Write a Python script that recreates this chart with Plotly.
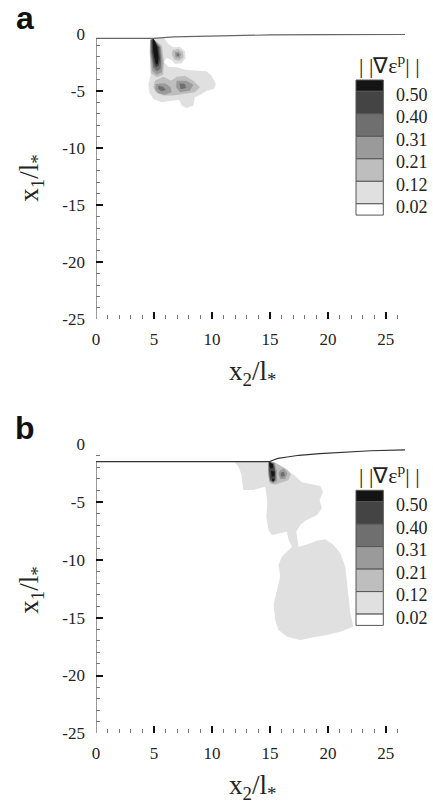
import plotly.graph_objects as go

# ---------------- data ----------------
LEVELS = [0.02, 0.12, 0.21, 0.31, 0.40, 0.50]
LEVEL_LABELS = ["0.02", "0.12", "0.21", "0.31", "0.40", "0.50"]
X_TICKS = [0, 5, 10, 15, 20, 25]
Y_TICKS = [0, -5, -10, -15, -20, -25]

# deformed free surface
A_SURF_X = [0, 4.95, 6.7, 9.5, 11.5, 15.0, 20.0, 26.65]
A_SURF_Y = [-0.38, -0.38, -0.26, -0.18, -0.13, -0.08, -0.05, -0.03]
B_SURF_X = [0, 15.0, 15.3, 15.7, 16.5, 17.5, 19.3, 21.5, 23.7, 26.65]
B_SURF_Y = [-1.5, -1.5, -1.36, -1.22, -1.10, -0.95, -0.80, -0.66, -0.56, -0.48]

# panel a : regions of ||grad eps_p|| (band 1 = 0.02-0.12 ... band 6 = >0.50)
A_B1_X = [4.94, 5.86, 6.24, 6.67, 7.24, 7.67, 7.73, 7.39, 6.81, 6.52, 6.09, 5.86, 6.24, 6.95,
          7.82, 8.82, 9.54, 9.97, 10.34, 10.17, 9.54, 9.11, 8.53, 8.39, 7.82, 7.39, 7.18, 6.52,
          5.66, 4.94, 4.60, 4.51, 4.71, 4.66, 4.71, 4.83]
A_B1_Y = [-0.35, -0.35, -0.88, -1.17, -1.11, -1.52, -2.10, -2.57, -2.63, -2.28, -2.10, -2.48,
          -2.86, -2.92, -3.16, -3.21, -3.27, -3.65, -4.38, -4.82, -4.97, -5.26, -5.55, -6.28,
          -6.49, -6.28, -5.78, -5.84, -5.99, -5.70, -5.11, -4.38, -3.65, -2.92, -1.75, -0.73]
A_B2_X = [4.83, 5.69, 5.86, 5.80, 5.23, 4.77, 4.63, 4.66, None,
          5.09, 5.80, 6.52, 6.95, 7.67, 8.39, 8.97, 8.53, 7.53, 6.67, 5.80, 5.17, 4.94, None,
          6.60, 7.10, 7.50, 7.55, 7.20, 6.75, 6.55]
A_B2_Y = [-0.35, -1.02, -2.48, -3.56, -3.80, -3.45, -1.61, -0.53, None,
          -4.09, -3.74, -4.09, -3.74, -3.65, -4.09, -4.67, -5.11, -5.26, -5.40, -5.40, -5.11, -4.62, None,
          -1.45, -1.30, -1.60, -2.05, -2.35, -2.25, -1.85]
A_B3_X = [4.86, 5.60, 5.75, 5.69, 5.23, 4.86, 4.68, 4.68, None,
          6.80, 7.15, 7.35, 7.20, 6.85, None,
          5.17, 5.95, 6.44, 6.52, 5.95, 5.37, 5.09, None,
          6.95, 7.82, 8.39, 8.10, 7.24, 6.90]
A_B3_Y = [-0.35, -1.17, -2.48, -3.36, -3.56, -3.21, -1.61, -0.58, None,
          -1.60, -1.55, -1.80, -2.10, -2.05, None,
          -4.38, -4.32, -4.67, -5.11, -5.32, -5.20, -4.82, None,
          -4.09, -4.09, -4.44, -4.97, -5.11, -4.67]
A_B4_X = [4.89, 5.52, 5.63, 5.57, 5.23, 4.94, 4.74, 4.74, None,
          6.95, 7.15, 7.15, 6.95, None,
          5.37, 5.80, 6.03, 5.66, 5.37, None,
          7.18, 7.67, 7.76, 7.30]
A_B4_Y = [-0.35, -1.17, -2.34, -3.07, -3.27, -2.92, -1.61, -0.58, None,
          -1.70, -1.72, -1.92, -1.90, None,
          -4.53, -4.62, -4.91, -5.02, -4.82, None,
          -4.32, -4.38, -4.73, -4.85]
A_B5_X = [4.91, 5.40, 5.52, 5.43, 5.17, 5.00, 4.83, 4.80]
A_B5_Y = [-0.35, -1.17, -2.19, -2.78, -2.92, -2.63, -1.61, -0.58]
A_B6_X = [4.94, 5.29, 5.40, 5.34, 5.23, 5.12, 4.94, 4.89]
A_B6_Y = [-0.35, -1.17, -2.04, -2.57, -2.69, -2.48, -1.61, -0.73]

# panel b
B_B1_X = [11.9, 12.3, 12.55, 12.7, 13.58, 14.59, 14.79, 14.68, 14.88, 15.17, 16.47, 16.61, 16.90,
          16.03, 15.74, 15.89, 15.54, 15.31, 15.46, 15.74, 16.47, 17.62, 18.77, 19.92, 21.07,
          22.2, 21.93, 21.79, 21.65, 21.5, 21.07, 20.49, 19.78, 19.06, 18.05, 17.47, 17.39,
          17.27, 17.62, 18.05, 19.06, 19.49, 19.28, 19.58, 19.34, 18.34, 17.76, 17.18, 16.47,
          15.74, 15.03]
B_B1_Y = [-1.5, -1.94, -2.66, -3.95, -3.95, -3.67, -5.10, -6.26, -7.41, -7.85, -7.56, -8.28, -8.86,
          -9.72, -10.44, -11.45, -12.89, -13.90, -15.20, -16.06, -16.64, -16.93, -16.70, -16.50,
          -16.21, -15.78, -14.6, -13.18, -11.74, -10.6, -9.43, -8.71, -8.22, -8.34, -8.71, -8.86,
          -8.28, -7.56, -6.98, -6.61, -6.12, -5.54, -4.82, -4.10, -3.61, -3.37, -3.29, -2.74,
          -2.22, -1.79, -1.5]
B_B2_X = [14.85, 15.4, 16.0, 16.5, 16.8, 16.6, 16.0, 15.5, 15.0, 14.85]
B_B2_Y = [-1.5, -1.55, -1.9, -2.2, -2.6, -3.1, -3.3, -3.5, -3.4, -2.6]
B_B3_X = [14.85, 15.4, 15.6, 15.6, 15.3, 14.95, 14.85, None,
          15.8, 16.2, 16.5, 16.3, 15.9, 15.75]
B_B3_Y = [-1.5, -1.6, -2.3, -3.2, -3.4, -3.2, -2.4, None,
          -2.3, -2.1, -2.5, -3.0, -3.0, -2.6]
B_B4_X = [14.9, 15.35, 15.5, 15.5, 15.25, 15.0, 14.9, None,
          16.0, 16.2, 16.3, 16.05, 15.9]
B_B4_Y = [-1.5, -1.65, -2.4, -3.1, -3.3, -3.1, -2.3, None,
          -2.4, -2.4, -2.7, -2.85, -2.65]
B_B5_X = [14.92, 15.3, 15.45, 15.45, 15.2, 15.02, 14.95]
B_B5_Y = [-1.52, -1.7, -2.4, -3.0, -3.2, -3.0, -2.3]
B_B6_X = [14.95, 15.25, 15.3, 15.05, 14.95, None,
          15.1, 15.4, 15.4, 15.15, None,
          15.2, 15.4, 15.35, 15.2]
B_B6_Y = [-1.55, -1.7, -2.0, -2.1, -1.9, None,
          -2.3, -2.35, -2.75, -2.8, None,
          -2.95, -3.0, -3.2, -3.2]

# ---------------- style ----------------
W, H = 433, 803
BAND_COLORS = ["#ffffff", "#e0e0e0", "#bebebe", "#9a9a9a", "#6f6f6f", "#444444", "#141414"]
SERIF = "Liberation Serif"
SANS = "Liberation Sans"
X_LEFT, X_RIGHT = 96, 405
PANELS = {"a": (34.0, 319.3), "b": (444.3, 733.3)}
X_RANGE = [0, 26.65]

fig = go.Figure()

panel_data = {
    "a": ([(A_B1_X, A_B1_Y), (A_B2_X, A_B2_Y), (A_B3_X, A_B3_Y), (A_B4_X, A_B4_Y),
           (A_B5_X, A_B5_Y), (A_B6_X, A_B6_Y)], A_SURF_X, A_SURF_Y, "#666666"),
    "b": ([(B_B1_X, B_B1_Y), (B_B2_X, B_B2_Y), (B_B3_X, B_B3_Y), (B_B4_X, B_B4_Y),
           (B_B5_X, B_B5_Y), (B_B6_X, B_B6_Y)], B_SURF_X, B_SURF_Y, "#333333"),
}

for i, key in enumerate(["a", "b"]):
    xa = "x" if i == 0 else "x2"
    ya = "y" if i == 0 else "y2"
    bands, sx, sy, scol = panel_data[key]
    for k, (bx, by) in enumerate(bands):
        fig.add_trace(go.Scatter(x=bx, y=by, xaxis=xa, yaxis=ya, mode="lines",
                                 fill="toself", fillcolor=BAND_COLORS[k + 1],
                                 line=dict(width=0, color=BAND_COLORS[k + 1]),
                                 hoverinfo="skip", showlegend=False))
    fig.add_trace(go.Scatter(x=sx, y=sy, xaxis=xa, yaxis=ya, mode="lines",
                             line=dict(color=scol, width=1.2), showlegend=False,
                             cliponaxis=False))
    # left boundary of the specimen (from surface down to the bottom)
    fig.add_trace(go.Scatter(x=[sx[0], sx[0]], y=[sy[0], Y_TICKS[-1]], xaxis=xa, yaxis=ya,
                             mode="lines", line=dict(color="#555555", width=1.2),
                             showlegend=False, cliponaxis=False))

def xaxis_cfg(anchor):
    return dict(domain=[X_LEFT / W, X_RIGHT / W], range=X_RANGE, anchor=anchor,
                automargin=False,
                showline=False, showgrid=False, zeroline=False,
                tickmode="array", tickvals=X_TICKS, ticktext=[str(v) for v in X_TICKS],
                ticks="inside", ticklen=7, tickwidth=2, tickcolor="#111111",
                ticklabelstandoff=8,
                minor=dict(ticks="inside", ticklen=4, tickwidth=1, tickcolor="#777777",
                           dtick=1, showgrid=False),
                tickfont=dict(family=SERIF, size=17, color="#222222"))

def yaxis_cfg(anchor, top, bottom):
    return dict(domain=[1 - bottom / H, 1 - top / H], range=[Y_TICKS[-1], Y_TICKS[0]],
                anchor=anchor, automargin=False,
                showline=False, showgrid=False, zeroline=False,
                tickmode="array", tickvals=Y_TICKS, ticktext=[str(v) for v in Y_TICKS],
                ticks="inside", ticklen=7, tickwidth=2, tickcolor="#111111",
                ticklabelstandoff=10,
                minor=dict(ticks="inside", ticklen=4, tickwidth=1, tickcolor="#777777",
                           dtick=1, showgrid=False),
                tickfont=dict(family=SERIF, size=17, color="#222222"))

shapes = []
annotations = []
for key, (top, bottom) in PANELS.items():
    # colour legend
    y0 = top + 46.0
    heights = [11.3] + [22.5] * 5 + [11.3]
    edges = [y0]
    for h in heights:
        edges.append(edges[-1] + h)
    cols = BAND_COLORS[::-1]
    for k in range(7):
        shapes.append(dict(type="rect", xref="paper", yref="paper",
                           x0=356 / W, x1=383.3 / W,
                           y0=1 - edges[k + 1] / H, y1=1 - edges[k] / H,
                           fillcolor=cols[k], line=dict(color="#555555", width=1)))
    labs = LEVEL_LABELS[::-1]
    for k in range(6):
        annotations.append(dict(xref="paper", yref="paper", x=394 / W,
                                y=1 - (edges[k + 1] + 3.5) / H, xanchor="left",
                                yanchor="middle", showarrow=False, text=labs[k],
                                font=dict(family=SERIF, size=18, color="#222222")))
    annotations.append(dict(xref="paper", yref="paper", x=389 / W, y=1 - (y0 - 16) / H,
                            xanchor="center", yanchor="middle", showarrow=False,
                            text="| |∇ε<sup>p</sup>| |",
                            font=dict(family=SERIF, size=22, color="#222222")))
    # axis titles
    annotations.append(dict(xref="paper", yref="paper", x=31 / W,
                            y=1 - ((top + bottom) / 2 + 2) / H, xanchor="center",
                            yanchor="middle", textangle=-90, showarrow=False,
                            text="x<sub>1</sub>/l<sub>*</sub>",
                            font=dict(family=SERIF, size=27, color="#222222")))
    annotations.append(dict(xref="paper", yref="paper", x=252 / W,
                            y=1 - (bottom + 54) / H, xanchor="center",
                            yanchor="middle", showarrow=False,
                            text="x<sub>2</sub>/l<sub>*</sub>",
                            font=dict(family=SERIF, size=27, color="#222222")))
    # panel letter
    annotations.append(dict(xref="paper", yref="paper", x=25 / W, y=1 - (top - 16) / H,
                            xanchor="center", yanchor="middle", showarrow=False,
                            text="<b>%s</b>" % key,
                            font=dict(family=SANS, size=32, color="#111111")))

fig.update_layout(
    template="none",
    width=W, height=H, margin=dict(l=0, r=0, t=0, b=0, pad=0, autoexpand=False),
    paper_bgcolor="white", plot_bgcolor="white", showlegend=False,
    font=dict(family=SERIF, size=17, color="#222222"),
    xaxis=xaxis_cfg("y"), yaxis=yaxis_cfg("x", *PANELS["a"]),
    xaxis2=xaxis_cfg("y2"), yaxis2=yaxis_cfg("x2", *PANELS["b"]),
    shapes=shapes, annotations=annotations,
)

fig.write_html("out.html", config={"displayModeBar": False},
               post_script="document.body.style.margin='0px';document.body.style.padding='0px';")
